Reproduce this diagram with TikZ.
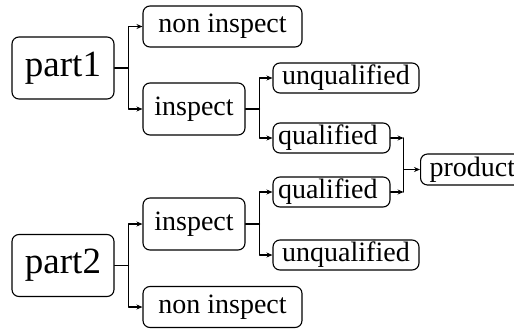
\documentclass[tikz,border=0pt]{standalone}
\usepackage{fontspec}
\setmainfont{Liberation Serif}
\usetikzlibrary{arrows.meta, calc, positioning}

\begin{document}
\begin{tikzpicture}[x=1pt, y=-1pt, line cap=round, line join=round, >={Stealth[length=6pt,width=5pt]},
		box/.style={draw, rounded corners=7pt, line width=1.1pt, inner sep=0pt, font=\fontsize{28}{28}\selectfont},
		partbox/.style={box, minimum width=102pt, minimum height=62pt, font=\fontsize{37}{37}\selectfont},
		nonbox/.style={box, minimum width=159pt, minimum height=41pt},
		insbox/.style={box, minimum width=102pt, minimum height=52pt},
		unqbox/.style={box, minimum width=146pt, minimum height=30pt},
		qbox/.style={box, inner xsep=5pt, text width=107pt, align=left, minimum height=30pt},
		link/.style={line width=1.1pt}]
		\useasboundingbox (0,0) rectangle (514,329);
		
		% first part
		\node[partbox] (part1) at (63,68) {part1};
		\node[nonbox] (non1) at (222.5,26.5) {non inspect};
		\node[insbox] (ins1) at (194,109) {inspect};
		\node[unqbox] (unq1) at (346,78) {unqualified};
		\node[qbox] (q1) at (331.5,138) {qualified};
		
		% second part
		\node[partbox] (part2) at (63,265.5) {part2};
		\node[insbox] (ins2) at (194,224) {inspect};
		\node[nonbox] (non2) at (222.5,307) {non inspect};
		\node[qbox] (q2) at (331.5,192) {qualified};
		\node[unqbox] (unq2) at (346,255) {unqualified};
		
		% product (cut at the right border)
		\node[box, anchor=west, inner xsep=9pt, minimum height=31pt] (prod) at (420,169.5) {product};
		
		% branches of part1
		\coordinate (s1) at ($(part1.east)+(14,0)$);
		\draw[link] (part1.east) -- (s1);
		\draw[link,->] (s1) |- (non1.west);
		\draw[link,->] (s1) |- (ins1.west);
		\coordinate (t1) at ($(ins1.east)+(14,0)$);
		\draw[link] (ins1.east) -- (t1);
		\draw[link,->] (t1) |- (unq1.west);
		\draw[link,->] (t1) |- (q1.west);
		
		% branches of part2
		\coordinate (s2) at ($(part2.east)+(14,0)$);
		\draw[link] (part2.east) -- (s2);
		\draw[link,->] (s2) |- (ins2.west);
		\draw[link,->] (s2) |- (non2.west);
		\coordinate (t2) at ($(ins2.east)+(14,0)$);
		\draw[link] (ins2.east) -- (t2);
		\draw[link,->] (t2) |- (q2.west);
		\draw[link,->] (t2) |- (unq2.west);
		
		% qualified parts go to product
		\coordinate (m) at ($(q1.east)+(13,0)$);
		\draw[link,->] (q1.east) -- (m);
		\draw[link,->] (q2.east) -- (m |- q2.east);
		\draw[link] (m) -- (m |- q2.east);
		\draw[link,->] (m |- prod.west) -- (prod.west);
		
	\end{tikzpicture}
\end{document}
